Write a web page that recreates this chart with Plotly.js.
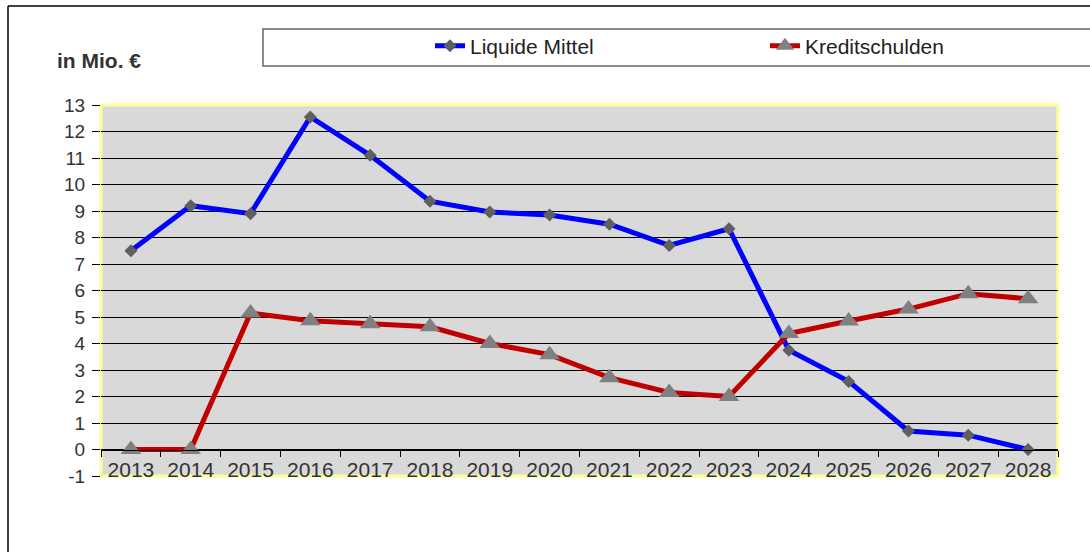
<!DOCTYPE html>
<html>
<head>
<meta charset="utf-8">
<script src="https://cdn.plot.ly/plotly-3.0.1.min.js"></script>
<style>html,body{margin:0;padding:0;background:#fff;}#chart{width:1090px;height:552px;}</style>
</head>
<body>
<div id="chart"></div>
<script>
const years = ['2013','2014','2015','2016','2017','2018','2019','2020','2021','2022','2023','2024','2025','2026','2027','2028'];
const liquideMittel = [7.5, 9.2, 8.9, 12.55, 11.1, 9.37, 8.96, 8.85, 8.5, 7.7, 8.33, 3.75, 2.57, 0.7, 0.54, 0.0];
const kreditschulden = [0, 0, 5.15, 4.86, 4.75, 4.63, 4.0, 3.58, 2.71, 2.15, 2.0, 4.38, 4.85, 5.3, 5.88, 5.69];
const yTicks = [-1,0,1,2,3,4,5,6,7,8,9,10,11,12,13];
const seriesNames = ['Liquide Mittel', 'Kreditschulden'];
const unitLabel = 'in Mio. €';

// plot area in pixels
const W = 1090, H = 552;
const L = 101, R = 1058, T = 105, B = 476;
const px = x => (x - L) / (R - L);
const py = y => (B - y) / (B - T);
const yMin = -1, yMax = 13;
const FAM = 'Liberation Sans, Arial, sans-serif';

const traces = [
  {
    x: years, y: liquideMittel, name: seriesNames[0], type: 'scatter', mode: 'lines+markers',
    line: {color: '#0000ff', width: 5},
    marker: {symbol: 'diamond', size: 10, color: '#5f5f5f'}
  },
  {
    x: years, y: kreditschulden, name: seriesNames[1], type: 'scatter', mode: 'lines+markers',
    line: {color: '#c00000', width: 5},
    marker: {symbol: 'triangle-up', size: 18, color: '#808080'}
  }
];

const layout = {
  width: W, height: H,
  margin: {l: L, r: W - R, t: T, b: H - B, pad: 0, autoexpand: false},
  paper_bgcolor: '#ffffff',
  plot_bgcolor: '#d9d9d9',
  font: {family: FAM, size: 18, color: '#333333'},
  showlegend: true,
  legend: {
    orientation: 'h', x: px(430), xanchor: 'left', y: py(46), yanchor: 'middle',
    bgcolor: 'rgba(0,0,0,0)', borderwidth: 0,
    font: {family: FAM, size: 21, color: '#222222'},
    entrywidth: 290, entrywidthmode: 'pixels'
  },
  xaxis: {
    type: 'category', range: [-0.5, years.length - 0.5], autorange: false,
    anchor: 'free', position: (0 - yMin) / (yMax - yMin),
    showline: true, linecolor: '#000000', linewidth: 1,
    ticks: 'outside', tickson: 'boundaries', ticklen: 6, tickcolor: '#000000', tickwidth: 1,
    showgrid: false, zeroline: false, automargin: false,
    tickfont: {family: FAM, size: 21, color: '#333333'}, ticklabelstandoff: 1, fixedrange: true
  },
  yaxis: {
    range: [yMin, yMax], autorange: false, tickvals: yTicks, ticktext: yTicks.map(String),
    showline: false, ticks: 'outside', ticklen: 8, tickcolor: '#000000', tickwidth: 1,
    showgrid: true, gridcolor: '#000000', gridwidth: 1, zeroline: false, automargin: false,
    tickfont: {family: FAM, size: 19, color: '#333333'}, ticklabelstandoff: 3, fixedrange: true
  },
  annotations: [
    {text: '<b>' + unitLabel + '</b>', xref: 'paper', yref: 'paper', x: px(55), y: py(60),
     xanchor: 'left', yanchor: 'middle', showarrow: false,
     font: {family: FAM, size: 21, color: '#333333'}}
  ],
  shapes: [
    // plot area border (yellow)
    {type: 'rect', xref: 'paper', yref: 'paper', x0: 0, x1: 1, y0: 0, y1: 1,
     line: {color: '#ffff99', width: 3}, fillcolor: 'rgba(0,0,0,0)', layer: 'between'},
    // legend box
    {type: 'rect', xref: 'paper', yref: 'paper', x0: px(263), x1: px(1095), y0: py(66), y1: py(29),
     line: {color: '#666666', width: 1.5}, fillcolor: 'rgba(0,0,0,0)', layer: 'above'},
    // outer frame top and left
    {type: 'line', xref: 'paper', yref: 'paper', x0: px(8), x1: px(1095), y0: py(6), y1: py(6),
     line: {color: '#000000', width: 1.5}},
    {type: 'line', xref: 'paper', yref: 'paper', x0: px(8), x1: px(8), y0: py(6), y1: py(560),
     line: {color: '#000000', width: 1.5}}
  ]
};

Plotly.newPlot('chart', traces, layout, {displayModeBar: false, staticPlot: true});
</script>
</body>
</html>
